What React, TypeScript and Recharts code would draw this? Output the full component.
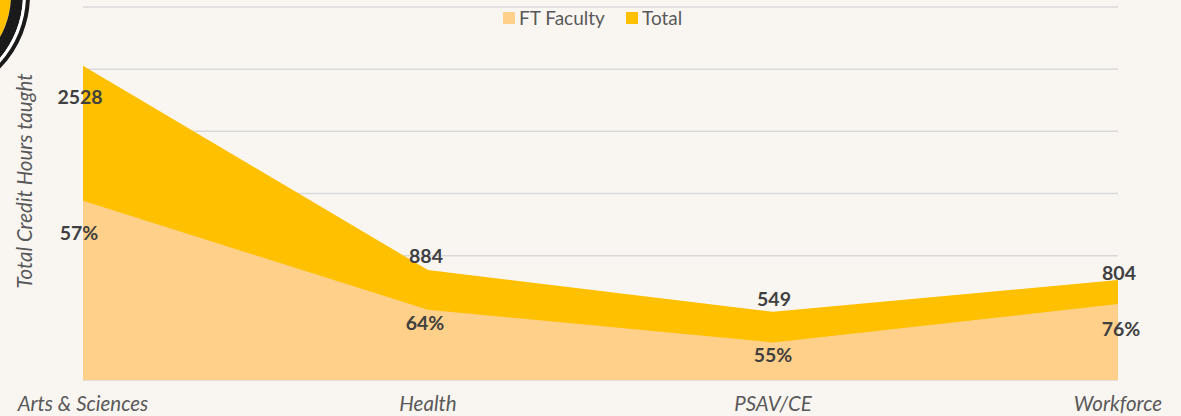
import React from "react";
import { AreaChart, Area, XAxis, YAxis, CartesianGrid, Legend, LabelList, Customized } from "recharts";

const categories = ["Arts & Sciences", "Health", "PSAV/CE", "Workforce"];
const totalHours = [2528, 884, 549, 804];
const ftFacultyHours = [1441, 566, 302, 611];
const ftShareLabels = ["57%", "64%", "55%", "76%"];
const yTicks = [0, 500, 1000, 1500, 2000, 2500, 3000];

const data = categories.map((c, i) => ({
  name: c,
  total: totalHours[i],
  ft: ftFacultyHours[i],
  share: ftShareLabels[i],
}));

const GOLD = "#FFC000";
const LIGHT = "#FED08A";
const BG = "#F9F6F2";
const TEXT = "#595959";
const DARK = "#404040";
const FONT = "Lato, 'Open Sans', sans-serif";

const totalOffsets = [
  { dx: -3, dy: 31 },
  { dx: -2, dy: -15 },
  { dx: 1, dy: -13 },
  { dx: 1, dy: -8 },
];
const ftOffsets = [
  { dx: -4, dy: 32 },
  { dx: -3, dy: 13 },
  { dx: 0, dy: 12 },
  { dx: 3, dy: 24 },
];

const makeLabel = (offsets: { dx: number; dy: number }[], texts?: string[]) => (props: any) => {
  const { x, y, index, value } = props;
  const o = offsets[index] || { dx: 0, dy: 0 };
  return (
    <text
      x={x + o.dx}
      y={y + o.dy}
      textAnchor="middle"
      dominantBaseline="central"
      fill={DARK}
      fontFamily={FONT}
      fontWeight={700}
      fontSize={19.5}
    >
      {texts ? texts[index] : value}
    </text>
  );
};

const XTick = (props: any) => {
  const { x, y, payload } = props;
  return (
    <text
      x={x}
      y={y + 15}
      textAnchor="middle"
      dominantBaseline="central"
      fill={TEXT}
      fontFamily={FONT}
      fontStyle="italic"
      fontSize={20.5}
    >
      {payload.value}
    </text>
  );
};

const LegendContent = () => (
  <div style={{ position: "relative", width: 1181, height: 24, fontFamily: FONT, fontSize: 19, color: TEXT }}>
    <div style={{ position: "absolute", left: 503, top: 6, width: 12, height: 12, background: LIGHT }} />
    <div style={{ position: "absolute", left: 519, top: 0, lineHeight: "24px" }}>FT Faculty</div>
    <div style={{ position: "absolute", left: 626, top: 6, width: 12, height: 12, background: GOLD }} />
    <div style={{ position: "absolute", left: 642, top: 0, lineHeight: "24px" }}>Total</div>
  </div>
);

const Decor = () => (
  <g>
    <circle cx={-75} cy={-5} r={86} fill={GOLD} />
    <circle cx={-75} cy={-5} r={92} fill="none" stroke="#1a1a1a" strokeWidth={12} />
    <circle cx={-75} cy={-5} r={99.5} fill="none" stroke="#ffffff" strokeWidth={3} />
    <circle cx={-75} cy={-5} r={103} fill="none" stroke="#1a1a1a" strokeWidth={4} />
    <text
      transform="translate(24,181) rotate(-90)"
      textAnchor="middle"
      dominantBaseline="central"
      fill={TEXT}
      fontFamily={FONT}
      fontStyle="italic"
      fontSize={20.5}
    >
      Total Credit Hours taught
    </text>
  </g>
);

export default function App() {
  return (
    <div style={{ position: "absolute", left: 0, top: 0, width: 1181, height: 416, background: BG, overflow: "hidden" }}>
      <AreaChart width={1181} height={416} data={data} margin={{ top: 7, right: 63, bottom: 6, left: 83 }}>
        <CartesianGrid horizontal vertical={false} stroke="#D9D9D9" strokeWidth={1.5} />
        <XAxis
          dataKey="name"
          axisLine={false}
          tickLine={false}
          height={30}
          interval={0}
          tick={<XTick />}
        />
        <YAxis hide domain={[0, 3000]} ticks={yTicks} width={0} />
        <Legend
          layout="horizontal"
          verticalAlign="middle"
          align="center"
          wrapperStyle={{ top: 6, left: 0, width: 1181, height: 24 }}
          content={<LegendContent />}
        />
        <Area
          type="linear"
          dataKey="total"
          name="Total"
          stroke="none"
          fill={GOLD}
          fillOpacity={1}
          isAnimationActive={false}
          dot={false}
          activeDot={false}
        >
          <LabelList dataKey="total" content={makeLabel(totalOffsets)} />
        </Area>
        <Area
          type="linear"
          dataKey="ft"
          name="FT Faculty"
          stroke="none"
          fill={LIGHT}
          fillOpacity={1}
          isAnimationActive={false}
          dot={false}
          activeDot={false}
        >
          <LabelList dataKey="ft" content={makeLabel(ftOffsets, ftShareLabels)} />
        </Area>
        <Customized component={<Decor />} />
      </AreaChart>
    </div>
  );
}
